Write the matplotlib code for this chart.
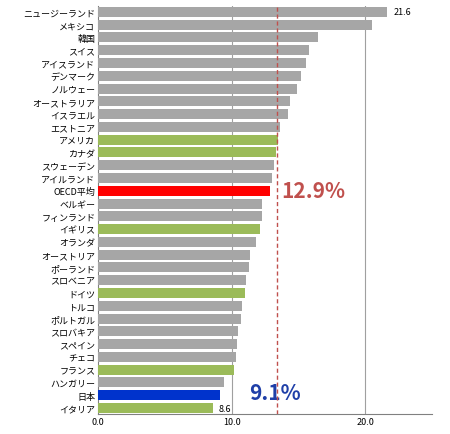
import matplotlib
matplotlib.use("Agg")
import matplotlib.pyplot as plt

plt.rcParams['font.family'] = ['Noto Sans CJK JP', 'DejaVu Sans']

countries = ["ニュージーランド","メキシコ","韓国","スイス","アイスランド","デンマーク","ノルウェー",
             "オーストラリア","イスラエル","エストニア","アメリカ","カナダ","スウェーデン","アイルランド",
             "OECD平均","ベルギー","フィンランド","イギリス","オランダ","オーストリア","ポーランド",
             "スロベニア","ドイツ","トルコ","ポルトガル","スロバキア","スペイン","チェコ","フランス",
             "ハンガリー","日本","イタリア"]
values = [21.6,20.5,16.5,15.8,15.6,15.2,14.9,14.4,14.2,13.6,13.5,13.3,13.2,13.0,
          12.9,12.3,12.3,12.1,11.8,11.4,11.3,11.1,11.0,10.8,10.7,10.5,10.4,10.3,10.2,
          9.4,9.1,8.6]
green = {"アメリカ","カナダ","イギリス","ドイツ","フランス","イタリア"}

def color(c):
    if c == "OECD平均": return "#ff0000"
    if c == "日本": return "#0033cc"
    if c in green: return "#9bbb59"
    return "#a6a6a6"

fig = plt.figure(figsize=(4.5, 4.35), dpi=100)
ax = fig.add_axes([0.218, 0.045, 0.742, 0.94])
n = len(countries)
y = list(range(n))
ax.barh(y, values, height=0.78, color=[color(c) for c in countries], zorder=3)
ax.set_yticks(y)
ax.set_yticklabels(countries, fontsize=6.5)
ax.set_ylim(n - 0.5, -0.5)
ax.set_xlim(0, 25)
ax.set_xticks([0, 10, 20])
ax.set_xticklabels(["0.0", "10.0", "20.0"], fontsize=6.5)
for x in (10, 20):
    ax.axvline(x, color="#a0a0a0", lw=0.8, zorder=1)
ax.axvline(13.4, color="#c0504d", lw=1.0, ls=(0, (3, 2)), zorder=4)
ax.tick_params(length=0, pad=2)
for s in ("top", "right"):
    ax.spines[s].set_visible(False)
ax.spines["left"].set_color("#808080")
ax.spines["bottom"].set_color("#808080")
ax.text(values[0] + 0.5, 0, "21.6", va="center", fontsize=6.5)
ax.text(values[-1] + 0.4, n - 1, "8.6", va="center", fontsize=6.5)
ax.text(13.7, 14, "12.9%", color="#c0504d", fontsize=15, va="center", fontweight="bold")
ax.text(11.3, 29.8, "9.1%", color="#1f3fa8", fontsize=15, va="center", fontweight="bold")
fig.savefig("out.png", dpi=100)
